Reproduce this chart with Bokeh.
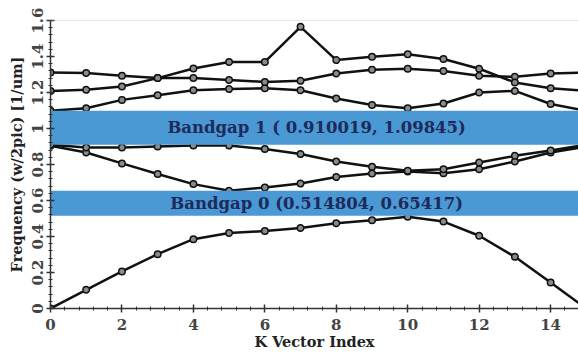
from bokeh.plotting import figure
from bokeh.models import Range1d, Span, ColumnDataSource, FixedTicker
from bokeh.embed import file_html
from bokeh.resources import INLINE
from bokeh.core.properties import value

k = list(range(16))
band1 = [0.0, 0.104, 0.206, 0.302, 0.385, 0.42, 0.43, 0.447, 0.474, 0.49, 0.51, 0.483, 0.404, 0.287, 0.144, 0.0]
band2 = [0.904, 0.867, 0.806, 0.747, 0.691, 0.654, 0.672, 0.694, 0.73, 0.75, 0.761, 0.752, 0.774, 0.817, 0.867, 0.9]
band3 = [0.91, 0.895, 0.895, 0.9, 0.905, 0.905, 0.886, 0.858, 0.817, 0.787, 0.765, 0.774, 0.811, 0.848, 0.878, 0.91]
band4 = [1.098, 1.113, 1.159, 1.185, 1.213, 1.219, 1.224, 1.213, 1.167, 1.13, 1.113, 1.139, 1.2, 1.209, 1.136, 1.098]
band5 = [1.311, 1.309, 1.293, 1.28, 1.28, 1.27, 1.259, 1.265, 1.306, 1.326, 1.332, 1.32, 1.293, 1.287, 1.306, 1.31]
band6 = [1.209, 1.215, 1.233, 1.28, 1.333, 1.37, 1.37, 1.565, 1.38, 1.398, 1.413, 1.386, 1.332, 1.256, 1.224, 1.209]
bands = [band1, band2, band3, band4, band5, band6]

gap_names = ["Bandgap 0", "Bandgap 1"]
gap_low = [0.514804, 0.910019]
gap_high = [0.65417, 1.09845]
gap_labels = ["Bandgap 0 (0.514804, 0.65417)", "Bandgap 1 ( 0.910019, 1.09845)"]

x_ticks = [0, 2, 4, 6, 8, 10, 12, 14]
y_ticks = [0, 0.2, 0.4, 0.6, 0.8, 1.0, 1.2, 1.4, 1.6]

FONT = "DejaVu Serif"

p = figure(width=578, height=353, output_backend="svg", toolbar_location=None,
           x_range=Range1d(0, 14.78), y_range=Range1d(0, 1.6),
           min_border_left=50, min_border_right=0, min_border_top=20, min_border_bottom=45)
p.outline_line_color = None
p.xgrid.visible = False
p.ygrid.visible = False
p.background_fill_color = "white"

for b in bands:
    p.line(k, b, line_color="#111111", line_width=2.5)
    p.scatter(k, b, size=6.5, marker="circle", line_color="#111111", line_width=1.5, fill_color="#8a8a8a")

src = ColumnDataSource(dict(low=gap_low, high=gap_high, label=gap_labels,
                            mid=[(a + b) / 2 for a, b in zip(gap_low, gap_high)],
                            left=[0, 0], right=[20, 20], xc=[7.45, 7.45]))
p.quad(left="left", right="right", bottom="low", top="high", source=src,
       fill_color="#4a98d4", line_color=None)
p.text(x="xc", y="mid", text="label", source=src, text_align="center", text_baseline="middle",
       text_font=value(FONT), text_font_style="bold", text_font_size="16.5px", text_color="#1d2a5a")

p.add_layout(Span(location=1.6, dimension="width", line_color="#999999", line_dash="1 1", line_width=1))

for ax in (p.xaxis[0], p.yaxis[0]):
    ax.axis_line_color = "#333333"
    ax.axis_line_width = 1.5
    ax.major_tick_in = 4
    ax.major_tick_out = 4
    ax.minor_tick_in = 2
    ax.minor_tick_out = 2
    ax.major_tick_line_width = 1.5
    ax.major_tick_line_color = "#333333"
    ax.minor_tick_line_color = "#333333"
    ax.major_label_text_font = FONT
    ax.major_label_text_font_style = "bold"
    ax.major_label_text_font_size = "15px"
    ax.major_label_text_color = "#444444"
    ax.axis_label_text_font = FONT
    ax.axis_label_text_font_style = "bold"
    ax.axis_label_text_font_size = "14.5px"
    ax.axis_label_text_color = "#222222"

p.xaxis[0].ticker = FixedTicker(ticks=x_ticks, minor_ticks=[i * 0.4 for i in range(38)])
p.yaxis[0].ticker = FixedTicker(ticks=y_ticks, minor_ticks=[i * 0.04 for i in range(41)])
p.yaxis[0].major_label_orientation = "vertical"
p.xaxis[0].axis_label = "K Vector Index"
p.yaxis[0].axis_label = "Frequency (w/2pic) [1/um]"
p.xaxis[0].axis_label_standoff = 0
p.yaxis[0].axis_label_standoff = 4
p.xaxis[0].major_label_standoff = 6
p.yaxis[0].major_label_standoff = 4

open("out.html", "w").write(file_html(p, INLINE))
